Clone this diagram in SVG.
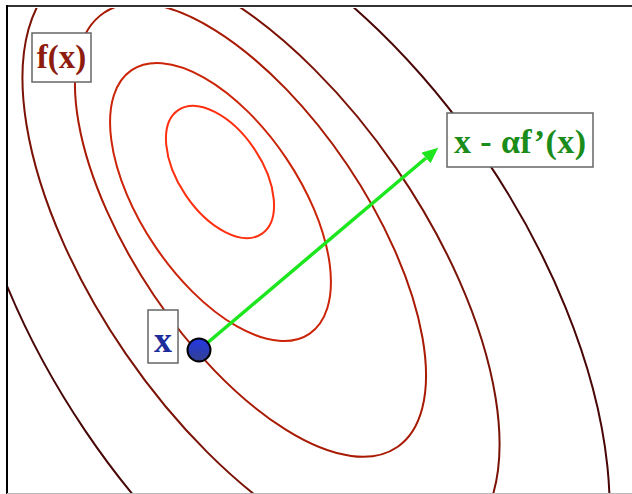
<svg xmlns="http://www.w3.org/2000/svg" width="632" height="494" viewBox="0 0 632 494">
  <style>
    .contour { fill: none; stroke-width: 2; }
    .box { fill: #ffffff; stroke: #666666; stroke-width: 1.5; }
    .lbl { font-family: "Liberation Serif", "Times New Roman", serif; font-weight: bold; }
  </style>
  <defs>
    <clipPath id="frameClip">
      <rect x="8" y="8" width="624" height="485"/>
    </clipPath>
    <linearGradient id="dotFill" x1="0" y1="0" x2="0" y2="1">
      <stop offset="0" stop-color="#2238e6"/>
      <stop offset="1" stop-color="#34418e"/>
    </linearGradient>
    <marker id="arrowHead" markerUnits="userSpaceOnUse" markerWidth="16" markerHeight="14" refX="0" refY="7" orient="auto">
      <path d="M0,0 L16,7 L0,14 z" fill="#1ee61e"/>
    </marker>
  </defs>

  <rect x="0" y="0" width="632" height="494" fill="#ffffff"/>

  <g id="contours" clip-path="url(#frameClip)">
    <ellipse id="contour-1" class="contour" stroke="#ff3010" cx="220" cy="172" rx="74.6" ry="41.4" transform="rotate(56 220 172)"/>
    <ellipse id="contour-2" class="contour" stroke="#cc2408" cx="220.5" cy="202" rx="159" ry="79" transform="rotate(56 220.5 202)"/>
    <ellipse id="contour-3" class="contour" stroke="#a81a04" cx="250.5" cy="230" rx="262" ry="116.6" transform="rotate(56 250.5 230)"/>
    <ellipse id="contour-4" class="contour" stroke="#7a1206" cx="261" cy="261" rx="347" ry="164" transform="rotate(55.5 261 261)"/>
    <ellipse id="contour-5" class="contour" stroke="#480606" cx="285.6" cy="295" rx="455" ry="242" transform="rotate(56 285.6 295)"/>
  </g>

  <g id="frame">
    <line x1="7" y1="6" x2="632" y2="6" stroke="#333333" stroke-width="2"/>
    <line x1="7" y1="5" x2="7" y2="494" stroke="#000000" stroke-width="2"/>
    <line x1="7" y1="493.5" x2="632" y2="493.5" stroke="#bbbbbb" stroke-width="1"/>
  </g>

  <g id="connectors">
    <line id="gradient-step" x1="199" y1="350" x2="426" y2="158" stroke="#1ee61e" stroke-width="3.5" marker-end="url(#arrowHead)"/>
  </g>

  <g id="node-fx">
    <rect class="box" x="32" y="33" width="59" height="49"/>
    <text class="lbl" x="61.5" y="68" font-size="33" text-anchor="middle" fill="#8e1c0e">f(x)</text>
  </g>

  <g id="node-step">
    <rect class="box" x="447" y="113" width="146" height="54"/>
    <text class="lbl" x="520" y="153" font-size="34" text-anchor="middle" textLength="132" lengthAdjust="spacing" fill="#1a8c1a">x - αf’(x)</text>
  </g>

  <g id="node-x-label">
    <rect class="box" x="148" y="310" width="30" height="53"/>
    <text class="lbl" x="163" y="352" font-size="36" text-anchor="middle" fill="#1c2c9a">x</text>
  </g>

  <g id="node-x-point">
    <circle cx="199" cy="350" r="11.5" fill="url(#dotFill)" stroke="#000000" stroke-width="2"/>
  </g>
</svg>
